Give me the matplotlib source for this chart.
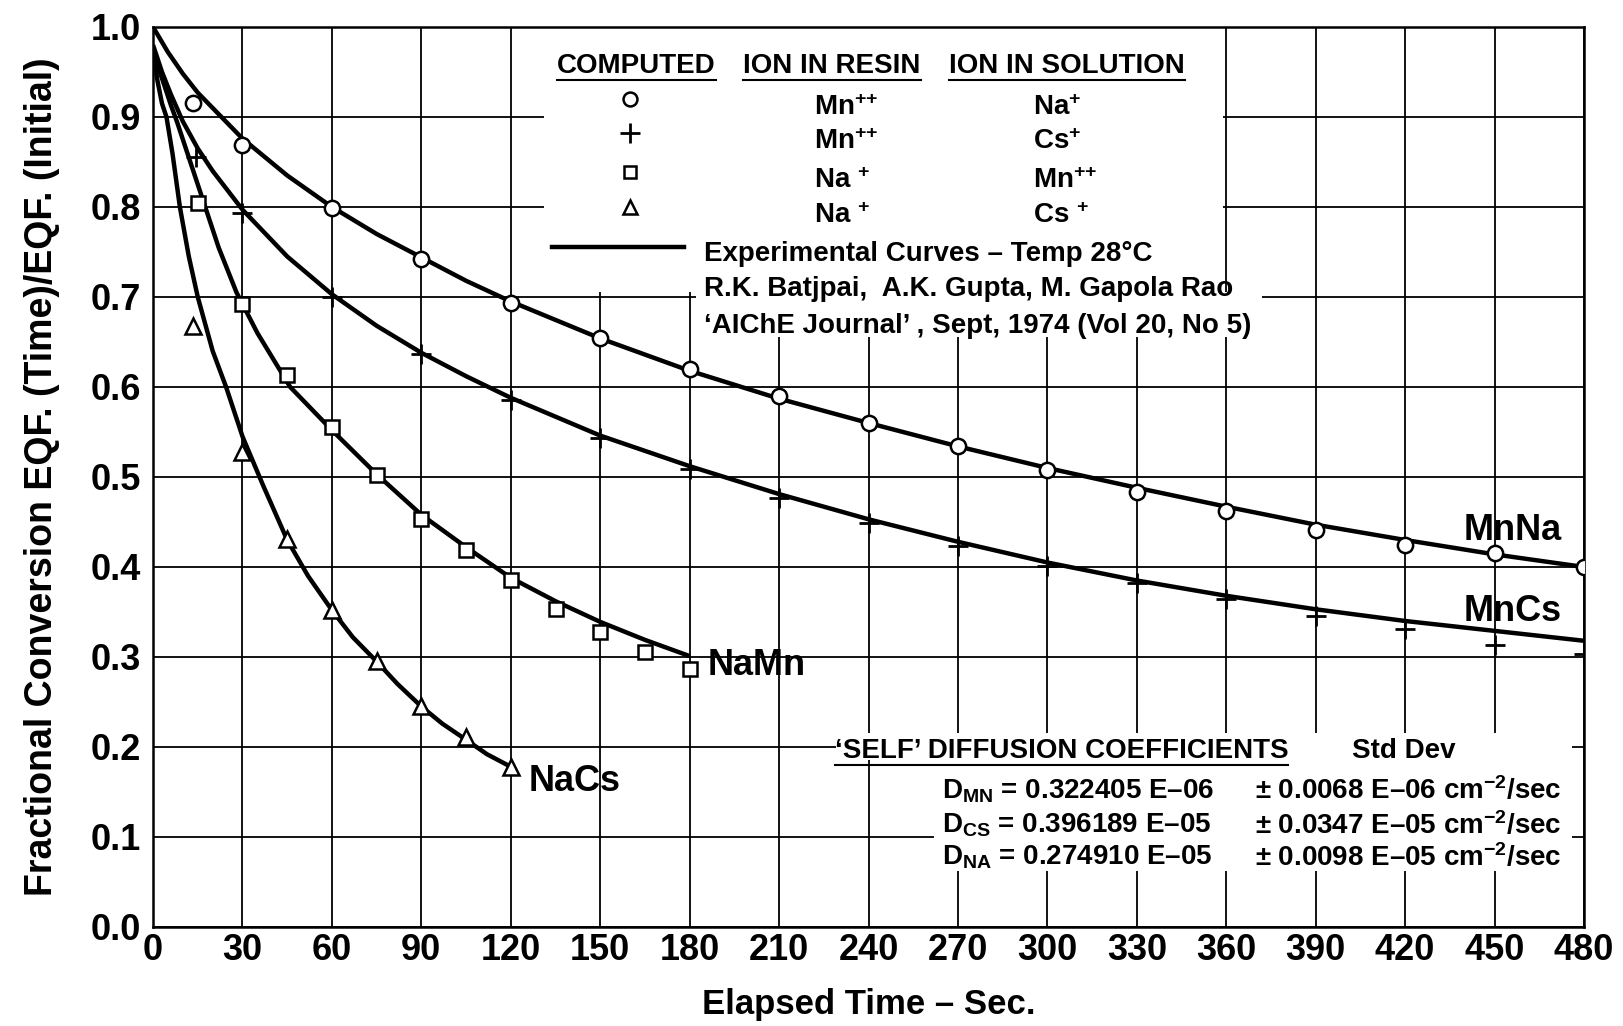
import matplotlib
matplotlib.use('Agg')
import matplotlib.pyplot as plt
from matplotlib.patches import Rectangle

plt.rcParams['font.family'] = ['Liberation Sans', 'DejaVu Sans']
plt.rcParams['font.weight'] = 'bold'
plt.rcParams['axes.labelweight'] = 'bold'
plt.rcParams['mathtext.fontset'] = 'custom'
plt.rcParams['mathtext.rm'] = 'Liberation Sans:bold'
plt.rcParams['mathtext.default'] = 'rm'

# experimental curves
mnna_curve_t = [0, 5, 10, 15, 20, 25, 30, 45, 60, 75, 90, 105, 120, 150, 180, 210,
                240, 270, 300, 330, 360, 390, 420, 450, 480]
mnna_curve_y = [1.0, 0.972, 0.948, 0.927, 0.910, 0.893, 0.876, 0.835, 0.800, 0.770,
                0.744, 0.718, 0.695, 0.654, 0.618, 0.587, 0.560, 0.534, 0.510, 0.488,
                0.467, 0.447, 0.430, 0.414, 0.400]

mncs_curve_t = [0, 3, 6, 10, 15, 20, 30, 45, 60, 75, 90, 105, 120, 150, 180, 210,
                240, 270, 300, 330, 360, 390, 420, 450, 480]
mncs_curve_y = [0.98, 0.95, 0.925, 0.895, 0.865, 0.840, 0.797, 0.745, 0.703, 0.668,
                0.638, 0.612, 0.588, 0.546, 0.512, 0.481, 0.453, 0.428, 0.405, 0.385,
                0.368, 0.353, 0.340, 0.329, 0.318]

namn_curve_t = [0, 2, 4, 6, 8, 10, 13, 17, 22, 28, 35, 46, 60, 75, 90, 105, 120,
                135, 150, 165, 180]
namn_curve_y = [0.975, 0.953, 0.933, 0.913, 0.895, 0.875, 0.845, 0.805, 0.755, 0.705,
                0.660, 0.600, 0.552, 0.503, 0.458, 0.422, 0.388, 0.362, 0.339, 0.319,
                0.301]

nacs_curve_t = [0, 1.5, 3, 4.5, 6.5, 9, 12, 15, 20, 24.5, 30, 37, 45, 52, 60, 67, 75,
                82, 90, 97, 105, 112, 120]
nacs_curve_y = [0.97, 0.94, 0.915, 0.90, 0.86, 0.80, 0.745, 0.70, 0.64, 0.60, 0.545,
                0.49, 0.43, 0.39, 0.352, 0.322, 0.295, 0.27, 0.245, 0.226, 0.208,
                0.192, 0.178]

# computed points
mnna_t = [13.5, 30, 60, 90, 120, 150, 180, 210, 240, 270, 300, 330, 360, 390, 420, 450, 480]
mnna_y = [0.915, 0.869, 0.799, 0.742, 0.693, 0.654, 0.620, 0.590, 0.560, 0.534, 0.508,
          0.483, 0.462, 0.441, 0.424, 0.415, 0.400]

mncs_t = [14.5, 30, 60, 90, 120, 150, 180, 210, 240, 270, 300, 330, 360, 390, 420, 450, 480]
mncs_y = [0.855, 0.793, 0.700, 0.637, 0.586, 0.543, 0.509, 0.477, 0.449, 0.423, 0.401,
          0.382, 0.364, 0.346, 0.331, 0.313, 0.303]

namn_t = [15, 30, 45, 60, 75, 90, 105, 120, 135, 150, 165, 180]
namn_y = [0.804, 0.692, 0.613, 0.555, 0.502, 0.453, 0.419, 0.385, 0.353, 0.328, 0.305, 0.287]

nacs_t = [13.5, 30, 45, 60, 75, 90, 105, 120]
nacs_y = [0.668, 0.528, 0.431, 0.352, 0.296, 0.246, 0.211, 0.178]

x_ticks = list(range(0, 481, 30))
y_ticks = [0.0, 0.1, 0.2, 0.3, 0.4, 0.5, 0.6, 0.7, 0.8, 0.9, 1.0]

fig = plt.figure(figsize=(16.23, 10.26), dpi=100)
ax = fig.add_axes([0.0943, 0.0965, 0.8817, 0.8772])
ax.set_xlim(0, 480)
ax.set_ylim(0, 1.0)
ax.set_xticks(x_ticks)
ax.set_yticks(y_ticks)
ax.set_yticklabels([f'{v:.1f}' for v in y_ticks])
ax.tick_params(length=0, labelsize=26)
ax.tick_params(axis='x', pad=4)
ax.tick_params(axis='y', pad=9)
ax.grid(True, color='black', lw=1.3)
ax.set_axisbelow(True)
for s in ax.spines.values():
    s.set_linewidth(1.8)

ax.set_xlabel('Elapsed Time – Sec.', fontsize=25, labelpad=15)
ax.set_ylabel('Fractional Conversion EQF. (Time)/EQF. (Initial)', fontsize=27, labelpad=22)

# white panels behind the text blocks (hide the grid there)
for x0, y0, w, h in [(131, 0.705, 228, 0.295), (182, 0.655, 190, 0.05),
                     (229, 0.185, 247, 0.03), (262, 0.062, 214, 0.123)]:
    ax.add_patch(Rectangle((x0, y0), w, h, facecolor='white', edgecolor='none', zorder=1))

lw = 3.2
for t, y in [(mnna_curve_t, mnna_curve_y), (mncs_curve_t, mncs_curve_y),
             (namn_curve_t, namn_curve_y), (nacs_curve_t, nacs_curve_y)]:
    ax.plot(t, y, color='black', lw=lw, zorder=2, solid_capstyle='butt')

mk = dict(ls='none', color='black', mfc='white', mec='black', mew=1.8, zorder=3)
ax.plot(mnna_t, mnna_y, marker='o', ms=11, **mk)
ax.plot(mncs_t, mncs_y, marker='+', ms=15, mew=2.0, ls='none', color='black', zorder=3)
ax.plot(namn_t, namn_y, marker='s', ms=10, **mk)
ax.plot(nacs_t, nacs_y, marker='^', ms=11, **mk)

# curve names
ax.text(456, 0.440, 'MnNa', fontsize=26, ha='center', va='center')
ax.text(456, 0.351, 'MnCs', fontsize=26, ha='center', va='center')
ax.text(186, 0.291, 'NaMn', fontsize=26, ha='left', va='center')
ax.text(126, 0.162, 'NaCs', fontsize=26, ha='left', va='center')

# legend table
fs = 20
underlined = []
underlined.append(ax.text(135.5, 0.957, 'COMPUTED', fontsize=fs, va='center'))
underlined.append(ax.text(198, 0.957, 'ION IN RESIN', fontsize=fs, va='center'))
underlined.append(ax.text(267, 0.957, 'ION IN SOLUTION', fontsize=fs, va='center'))

rows_y = [0.92, 0.882, 0.839, 0.80]
ax.plot(160, rows_y[0], marker='o', ms=10, **mk)
ax.plot(160, rows_y[1], marker='+', ms=14, mew=2.0, color='black', zorder=3)
ax.plot(160, rows_y[2], marker='s', ms=9, **mk)
ax.plot(160, rows_y[3], marker='^', ms=10, **mk)
resin = ['Mn$^{{+}{+}}$', 'Mn$^{{+}{+}}$', 'Na $^{+}$', 'Na $^{+}$']
solution = ['Na$^{+}$', 'Cs$^{+}$', 'Mn$^{{+}{+}}$', 'Cs $^{+}$']
for y, r, s in zip(rows_y, resin, solution):
    ax.text(221.6, y - 0.01, r, fontsize=fs, va='center')
    ax.text(295, y - 0.01, s, fontsize=fs, va='center')

ax.plot([133.7, 178], [0.756, 0.756], color='black', lw=lw, zorder=3)
ax.text(184.8, 0.748, 'Experimental Curves – Temp 28°C', fontsize=fs, va='center')
ax.text(184.8, 0.709, 'R.K. Batjpai,  A.K. Gupta, M. Gapola Rao', fontsize=fs, va='center')
ax.text(184.8, 0.668, "‘AIChE Journal’ , Sept, 1974 (Vol 20, No 5)", fontsize=fs, va='center')

# diffusion coefficients block
underlined.append(ax.text(228.6, 0.195, "‘SELF’ DIFFUSION COEFFICIENTS", fontsize=fs, va='center'))
ax.text(402, 0.195, 'Std Dev', fontsize=fs, va='center')
d_rows = [('D$_{MN}$ = 0.322405 E–06', '± 0.0068 E–06 cm$^{-2}$/sec', 0.151),
          ('D$_{CS}$ = 0.396189 E–05', '± 0.0347 E–05 cm$^{-2}$/sec', 0.113),
          ('D$_{NA}$ = 0.274910 E–05', '± 0.0098 E–05 cm$^{-2}$/sec', 0.077)]
for left, right, y in d_rows:
    ax.text(264.7, y, left, fontsize=fs, va='center')
    ax.text(369.6, y, right, fontsize=fs, va='center')

# underline the headers
fig.canvas.draw()
inv = ax.transData.inverted()
for t in underlined:
    bb = t.get_window_extent()
    (x0, y0), (x1, _) = inv.transform([(bb.x0, bb.y0 - 1), (bb.x1, bb.y0)])
    ax.plot([x0, x1], [y0, y0], color='black', lw=1.5, zorder=3)

fig.savefig('out.png', dpi=100)
